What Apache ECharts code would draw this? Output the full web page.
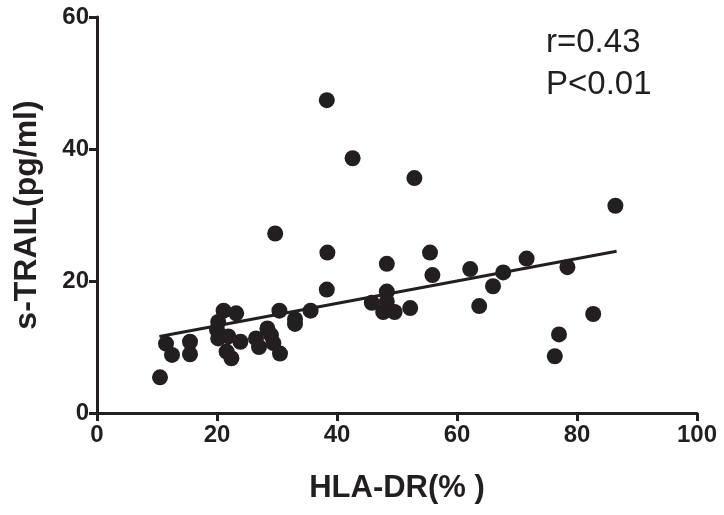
<!DOCTYPE html>
<html>
<head>
<meta charset="utf-8">
<script src="https://cdn.jsdelivr.net/npm/echarts@6/dist/echarts.min.js"></script>
<style>
  html, body { margin: 0; padding: 0; background: #fff; }
  #chart { width: 724px; height: 515px; }
</style>
</head>
<body>
<div id="chart"></div>
<script>
  // HLA-DR (%) vs s-TRAIL (pg/ml)
  var hlaDr = [10.5, 11.5, 12.5, 15.5, 15.5, 20.0, 20.2, 20.2, 21.1, 21.6, 21.9, 22.4, 23.2, 23.9,
    26.5, 27.0, 28.4, 29.0, 29.4, 30.5, 29.7, 30.4, 33.0, 33.0, 35.6, 38.3, 38.4, 38.3, 42.6,
    45.8, 47.7, 48.3, 48.3, 48.3, 49.6, 52.2, 52.9, 55.5, 55.9, 62.2, 63.7, 66.0, 67.7, 71.6,
    76.3, 77.0, 78.4, 82.7, 86.4];
  var sTrail = [5.4, 10.5, 8.8, 10.8, 8.9, 12.6, 13.8, 11.3, 15.5, 9.3, 11.6, 8.3, 15.1, 10.8,
    11.3, 10.0, 12.8, 11.8, 10.6, 9.0, 27.2, 15.5, 13.5, 14.2, 15.5, 18.7, 24.3, 47.4, 38.6,
    16.7, 15.3, 16.9, 18.4, 22.6, 15.3, 15.9, 35.6, 24.3, 20.9, 21.8, 16.2, 19.2, 21.3, 23.4,
    8.6, 11.9, 22.1, 15.0, 31.4];
  var fitX = [10.4, 86.6];
  var fitY = [11.6, 24.5];
  var xTicks = [0, 20, 40, 60, 80, 100];
  var yTicks = [0, 20, 40, 60];
  var statsText = ["r=0.43", "P<0.01"];

  var ink = "#231f20";
  var font = "Liberation Sans, Arial, sans-serif";
  var points = hlaDr.map(function (x, i) { return [x, sTrail[i]]; });
  var fitLine = fitX.map(function (x, i) { return [x, fitY[i]]; });

  var chart = echarts.init(document.getElementById("chart"));
  chart.setOption({
    animation: false,
    backgroundColor: "#fff",
    textStyle: { fontFamily: font },
    title: {
      text: statsText.join("\n"),
      left: 541,
      top: 17,
      textStyle: { fontSize: 33, fontWeight: "normal", color: ink, lineHeight: 42, fontFamily: font }
    },
    grid: { left: 97, right: 27, top: 17, bottom: 102 },
    xAxis: {
      type: "value",
      min: xTicks[0],
      max: xTicks[xTicks.length - 1],
      interval: 20,
      name: "HLA-DR(% )",
      nameLocation: "middle",
      nameGap: 60,
      nameTextStyle: { fontSize: 31, fontWeight: "bold", color: ink },
      axisLine: { onZero: false, lineStyle: { color: ink, width: 3 } },
      axisTick: { length: 8, lineStyle: { color: ink, width: 3 } },
      axisLabel: { fontSize: 24, fontWeight: "bold", color: ink, margin: 10 },
      splitLine: { show: false }
    },
    yAxis: {
      type: "value",
      min: yTicks[0],
      max: yTicks[yTicks.length - 1],
      interval: 20,
      name: "s-TRAIL(pg/ml)",
      nameLocation: "middle",
      nameGap: 54,
      nameTextStyle: { fontSize: 32, fontWeight: "bold", color: ink },
      axisLine: { show: true, onZero: false, lineStyle: { color: ink, width: 3 } },
      axisTick: { show: true, length: 8, lineStyle: { color: ink, width: 3 } },
      axisLabel: { fontSize: 24, fontWeight: "bold", color: ink, margin: 8 },
      splitLine: { show: false }
    },
    series: [
      {
        type: "scatter",
        data: points,
        symbolSize: 16,
        itemStyle: { color: ink, opacity: 1 }
      },
      {
        type: "line",
        data: fitLine,
        symbol: "none",
        lineStyle: { color: ink, width: 3 }
      }
    ]
  });
</script>
</body>
</html>
